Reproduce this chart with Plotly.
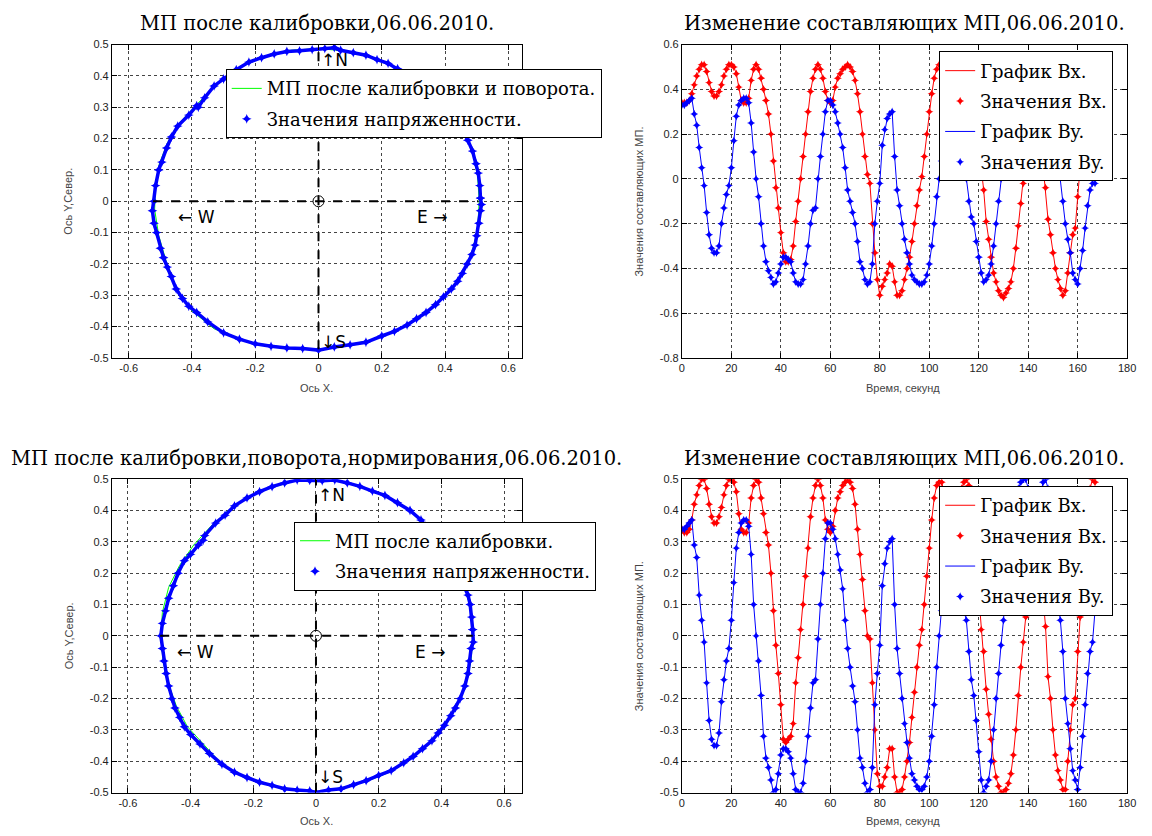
import plotly.graph_objects as go

# page body has an 8px default margin, so the figure is 8px smaller than the window
OFF = 8
W, H = 1152 - OFF, 836 - OFF

# ---------------- DATA ----------------
t_sec = list(range(168))

# top-right: components after calibration
bx_top = [0.34, 0.34, 0.34, 0.35, 0.38, 0.42, 0.46, 0.49, 0.51, 0.51,
          0.48, 0.43, 0.39, 0.37, 0.37, 0.39, 0.42, 0.46, 0.49, 0.51,
          0.51, 0.50, 0.47, 0.41, 0.35, 0.34, 0.34, 0.36, 0.44, 0.49,
          0.51, 0.49, 0.45, 0.40, 0.35, 0.29, 0.20, 0.08, -0.04, -0.13,
          -0.24, -0.33, -0.37, -0.37, -0.36, -0.30, -0.19, -0.10, 0.00, 0.10,
          0.20, 0.30, 0.39, 0.45, 0.49, 0.51, 0.49, 0.45, 0.39, 0.35,
          0.34, 0.35, 0.41, 0.45, 0.47, 0.49, 0.50, 0.51, 0.50, 0.48,
          0.44, 0.38, 0.30, 0.20, 0.10, 0.02, -0.02, -0.20, -0.33, -0.45,
          -0.52, -0.48, -0.45, -0.42, -0.38, -0.39, -0.46, -0.52, -0.52, -0.50,
          -0.45, -0.40, -0.35, -0.28, -0.20, -0.12, -0.05, 0.01, 0.10, 0.20,
          0.30, 0.38, 0.45, 0.49, 0.51, 0.50, 0.47, 0.42, 0.38, 0.36,
          0.36, 0.39, 0.44, 0.48, 0.50, 0.51, 0.49, 0.43, 0.34, 0.24,
          0.12, 0.02, -0.05, -0.19, -0.27, -0.35, -0.42, -0.46, -0.50, -0.52,
          -0.53, -0.51, -0.49, -0.46, -0.40, -0.31, -0.21, -0.11, -0.02, 0.10,
          0.22, 0.34, 0.40, 0.38, 0.30, 0.18, 0.06, -0.04, -0.18, -0.25,
          -0.33, -0.40, -0.45, -0.49, -0.52, -0.50, -0.42, -0.33, -0.25, -0.22,
          -0.08, 0.08, 0.22, 0.33, 0.42, 0.47, 0.50, 0.50]
by_top = [0.33, 0.33, 0.34, 0.35, 0.36, 0.29, 0.24, 0.14, 0.05, -0.03,
          -0.15, -0.25, -0.31, -0.33, -0.33, -0.30, -0.20, -0.13, -0.07, -0.03,
          0.05, 0.17, 0.28, 0.33, 0.35, 0.36, 0.36, 0.34, 0.25, 0.12,
          0.00, -0.08, -0.20, -0.30, -0.37, -0.41, -0.44, -0.47, -0.46, -0.42,
          -0.38, -0.35, -0.35, -0.36, -0.37, -0.42, -0.46, -0.47, -0.47, -0.45,
          -0.38, -0.30, -0.20, -0.14, -0.13, 0.00, 0.10, 0.20, 0.30, 0.35,
          0.35, 0.33, 0.30, 0.25, 0.20, 0.14, 0.05, -0.05, -0.10, -0.15,
          -0.20, -0.28, -0.37, -0.40, -0.45, -0.47, -0.46, -0.38, -0.20, -0.10,
          -0.02, 0.15, 0.22, 0.27, 0.29, 0.30, 0.10, -0.05, -0.12, -0.20,
          -0.27, -0.33, -0.38, -0.43, -0.45, -0.46, -0.47, -0.47, -0.46, -0.43,
          -0.38, -0.30, -0.20, -0.08, 0.00, 0.08, 0.18, 0.27, 0.33, 0.36,
          0.36, 0.33, 0.25, 0.15, 0.06, 0.00, -0.10, -0.17, -0.20, -0.28,
          -0.35, -0.42, -0.46, -0.45, -0.43, -0.38, -0.30, -0.20, -0.10, 0.00,
          0.08, 0.18, 0.27, 0.34, 0.40, 0.44, 0.47, 0.49, 0.50, 0.50,
          0.47, 0.42, 0.38, 0.37, 0.40, 0.45, 0.49, 0.50, 0.47, 0.38,
          0.28, 0.18, 0.08, 0.01, -0.10, -0.20, -0.27, -0.33, -0.42, -0.45,
          -0.47, -0.40, -0.32, -0.22, -0.12, -0.05, -0.02, -0.02]

# bottom-right: components after calibration, rotation, normalisation
bx_bot = [0.34, 0.33, 0.33, 0.34, 0.37, 0.42, 0.45, 0.48, 0.50, 0.50,
          0.47, 0.42, 0.38, 0.36, 0.36, 0.38, 0.41, 0.45, 0.48, 0.50,
          0.50, 0.49, 0.46, 0.39, 0.34, 0.33, 0.33, 0.36, 0.44, 0.48,
          0.50, 0.49, 0.44, 0.39, 0.33, 0.29, 0.20, 0.08, -0.03, -0.12,
          -0.22, -0.33, -0.34, -0.33, -0.32, -0.28, -0.15, -0.07, 0.02, 0.10,
          0.19, 0.28, 0.38, 0.44, 0.48, 0.50, 0.48, 0.44, 0.37, 0.34,
          0.33, 0.35, 0.40, 0.44, 0.46, 0.48, 0.49, 0.50, 0.49, 0.47,
          0.42, 0.34, 0.26, 0.18, 0.08, 0.00, -0.01, -0.15, -0.30, -0.44,
          -0.48, -0.48, -0.45, -0.42, -0.36, -0.36, -0.45, -0.50, -0.50, -0.49,
          -0.45, -0.40, -0.34, -0.26, -0.18, -0.10, -0.03, 0.02, 0.10, 0.19,
          0.28, 0.37, 0.44, 0.48, 0.49, 0.49, 0.46, 0.41, 0.37, 0.35,
          0.35, 0.38, 0.43, 0.47, 0.49, 0.50, 0.48, 0.42, 0.33, 0.23,
          0.12, 0.02, -0.05, -0.17, -0.25, -0.33, -0.40, -0.45, -0.48, -0.50,
          -0.50, -0.49, -0.47, -0.44, -0.38, -0.30, -0.19, -0.10, -0.02, 0.06,
          0.18, 0.30, 0.38, 0.37, 0.29, 0.18, 0.12, 0.03, -0.13, -0.20,
          -0.30, -0.38, -0.43, -0.46, -0.49, -0.49, -0.40, -0.30, -0.22, -0.20,
          -0.05, 0.06, 0.20, 0.32, 0.41, 0.47, 0.50, 0.49]
by_bot = [0.34, 0.34, 0.35, 0.36, 0.37, 0.29, 0.25, 0.13, 0.05, -0.02,
          -0.15, -0.27, -0.33, -0.35, -0.35, -0.31, -0.21, -0.14, -0.08, -0.04,
          0.05, 0.17, 0.28, 0.33, 0.36, 0.37, 0.37, 0.35, 0.26, 0.10,
          0.00, -0.08, -0.19, -0.32, -0.39, -0.42, -0.46, -0.50, -0.49, -0.44,
          -0.38, -0.36, -0.36, -0.37, -0.39, -0.44, -0.49, -0.50, -0.50, -0.47,
          -0.40, -0.32, -0.23, -0.15, -0.14, -0.01, 0.10, 0.20, 0.31, 0.36,
          0.36, 0.34, 0.31, 0.26, 0.21, 0.15, 0.05, -0.04, -0.10, -0.16,
          -0.21, -0.30, -0.39, -0.42, -0.47, -0.50, -0.49, -0.42, -0.22, -0.12,
          -0.03, 0.16, 0.23, 0.28, 0.30, 0.31, 0.10, -0.04, -0.12, -0.20,
          -0.28, -0.34, -0.39, -0.44, -0.46, -0.48, -0.49, -0.49, -0.48, -0.45,
          -0.40, -0.32, -0.22, -0.10, 0.00, 0.08, 0.19, 0.28, 0.34, 0.37,
          0.37, 0.34, 0.26, 0.16, 0.08, 0.05, -0.05, -0.14, -0.19, -0.27,
          -0.37, -0.46, -0.50, -0.48, -0.46, -0.40, -0.30, -0.20, -0.12, -0.03,
          0.05, 0.15, 0.26, 0.34, 0.40, 0.44, 0.47, 0.49, 0.50, 0.50,
          0.47, 0.42, 0.38, 0.37, 0.40, 0.45, 0.49, 0.50, 0.47, 0.38,
          0.28, 0.18, 0.10, 0.05, -0.05, -0.20, -0.28, -0.36, -0.43, -0.46,
          -0.49, -0.42, -0.32, -0.22, -0.12, -0.05, -0.02, 0.08]

# top-left: field after calibration and rotation
tl_fit_x = [0.508, 0.503, 0.488, 0.458, 0.415, 0.36, 0.30, 0.235, 0.16, 0.08,
            0.0, -0.085, -0.17, -0.25, -0.325, -0.385, -0.44, -0.478, -0.503, -0.515,
            -0.518, -0.505, -0.482, -0.448, -0.40, -0.33, -0.22, -0.10, 0.0, 0.08,
            0.175, 0.26, 0.33, 0.39, 0.432, 0.462, 0.486, 0.503, 0.508]
tl_fit_y = [0.0, 0.08, 0.155, 0.225, 0.29, 0.345, 0.39, 0.43, 0.462, 0.48,
            0.487, 0.482, 0.462, 0.427, 0.372, 0.31, 0.25, 0.185, 0.12, 0.047,
            -0.026, -0.11, -0.19, -0.285, -0.35, -0.407, -0.45, -0.467, -0.472, -0.462,
            -0.44, -0.405, -0.362, -0.31, -0.265, -0.215, -0.16, -0.09, 0.0]
tl_pts_x = [0.512, 0.51, 0.505, 0.498, 0.487, 0.472, 0.455, 0.435, 0.41, 0.38,
            0.35, 0.32, 0.285, 0.25, 0.22, 0.185, 0.15, 0.11, 0.07, 0.05,
            0.02, -0.02, -0.06, -0.10, -0.14, -0.18, -0.22, -0.26, -0.30, -0.33,
            -0.36, -0.38, -0.385, -0.41, -0.445, -0.465, -0.48, -0.495, -0.505, -0.515,
            -0.52, -0.525, -0.52, -0.512, -0.50, -0.49, -0.478, -0.465, -0.45, -0.43,
            -0.41, -0.385, -0.35, -0.30, -0.25, -0.20, -0.15, -0.10, -0.05, 0.0,
            0.05, 0.10, 0.15, 0.20, 0.24, 0.28, 0.31, 0.34, 0.37, 0.395,
            0.42, 0.44, 0.455, 0.47, 0.485, 0.495, 0.50, 0.507, 0.512, 0.515,
            0.512]
tl_pts_y = [0.01, 0.05, 0.09, 0.12, 0.16, 0.195, 0.23, 0.262, 0.295, 0.325,
            0.352, 0.376, 0.40, 0.423, 0.44, 0.452, 0.466, 0.474, 0.482, 0.49,
            0.487, 0.484, 0.48, 0.478, 0.47, 0.458, 0.444, 0.42, 0.39, 0.368,
            0.33, 0.30, 0.305, 0.275, 0.24, 0.205, 0.17, 0.125, 0.10, 0.05,
            0.0, -0.03, -0.07, -0.10, -0.15, -0.18, -0.21, -0.24, -0.28, -0.31,
            -0.335, -0.355, -0.385, -0.42, -0.44, -0.455, -0.463, -0.468, -0.47, -0.475,
            -0.465, -0.458, -0.45, -0.43, -0.415, -0.395, -0.375, -0.355, -0.33, -0.305,
            -0.28, -0.255, -0.23, -0.20, -0.17, -0.14, -0.11, -0.07, -0.03, -0.01,
            0.01]

# bottom-left: field after calibration, rotation, normalisation
bl_fit_x = [0.50, 0.495, 0.475, 0.44, 0.395, 0.345, 0.29, 0.225, 0.15, 0.075,
            0.0, -0.075, -0.15, -0.22, -0.28, -0.335, -0.39, -0.435, -0.47, -0.49,
            -0.495, -0.488, -0.47, -0.445, -0.41, -0.36, -0.30, -0.225, -0.15, -0.075,
            0.0, 0.08, 0.16, 0.235, 0.30, 0.36, 0.41, 0.45, 0.478, 0.495, 0.50]
bl_fit_y = [0.0, 0.08, 0.155, 0.23, 0.30, 0.36, 0.405, 0.445, 0.475, 0.493,
            0.497, 0.493, 0.47, 0.44, 0.40, 0.35, 0.29, 0.225, 0.155, 0.075,
            0.0, -0.08, -0.155, -0.225, -0.29, -0.345, -0.41, -0.45, -0.475, -0.49,
            -0.497, -0.485, -0.465, -0.435, -0.395, -0.345, -0.285, -0.22, -0.155, -0.08, 0.0]
bl_pts_x = [0.50, 0.497, 0.492, 0.485, 0.47, 0.455, 0.435, 0.41, 0.385, 0.35,
            0.335, 0.30, 0.26, 0.22, 0.18, 0.14, 0.10, 0.06, 0.02, -0.02,
            -0.06, -0.10, -0.14, -0.18, -0.22, -0.26, -0.29, -0.32, -0.355, -0.36,
            -0.375, -0.40, -0.42, -0.44, -0.455, -0.47, -0.48, -0.49, -0.495, -0.49,
            -0.485, -0.478, -0.47, -0.46, -0.45, -0.435, -0.42, -0.40, -0.37, -0.34,
            -0.30, -0.26, -0.22, -0.18, -0.14, -0.10, -0.06, -0.02, 0.0, 0.04,
            0.08, 0.12, 0.16, 0.20, 0.24, 0.28, 0.31, 0.34, 0.37, 0.39,
            0.41, 0.43, 0.445, 0.46, 0.475, 0.485, 0.49, 0.495, 0.502, 0.50]
bl_pts_y = [0.02, 0.06, 0.10, 0.13, 0.165, 0.20, 0.24, 0.28, 0.315, 0.35,
            0.37, 0.40, 0.425, 0.448, 0.462, 0.477, 0.488, 0.497, 0.495, 0.496,
            0.497, 0.488, 0.476, 0.46, 0.44, 0.415, 0.385, 0.36, 0.32, 0.305,
            0.29, 0.26, 0.24, 0.20, 0.16, 0.12, 0.08, 0.04, 0.0, -0.04,
            -0.08, -0.12, -0.16, -0.20, -0.23, -0.26, -0.29, -0.315, -0.345, -0.375,
            -0.41, -0.435, -0.452, -0.467, -0.477, -0.488, -0.492, -0.495, -0.50, -0.492,
            -0.488, -0.475, -0.462, -0.445, -0.43, -0.405, -0.385, -0.36, -0.335, -0.31,
            -0.285, -0.255, -0.23, -0.20, -0.16, -0.12, -0.08, -0.04, -0.02, 0.02]

# compass cross (dashed lines) for each circle plot
tl_cross_hx, tl_cross_vy = [-0.523, 0.505], [-0.472, 0.487]
bl_cross_hx, bl_cross_vy = [-0.497, 0.50], [-0.497, 0.497]

# tick labels
circ_xt = [-0.6, -0.4, -0.2, 0, 0.2, 0.4, 0.6]
circ_yt = [-0.5, -0.4, -0.3, -0.2, -0.1, 0, 0.1, 0.2, 0.3, 0.4, 0.5]
time_xt = [0, 20, 40, 60, 80, 100, 120, 140, 160, 180]
tr_yt = [-0.8, -0.6, -0.4, -0.2, 0, 0.2, 0.4, 0.6]
br_yt = [-0.5, -0.4, -0.3, -0.2, -0.1, 0, 0.1, 0.2, 0.3, 0.4, 0.5]

titles = ["МП после калибровки,06.06.2010.",
          "Изменение составляющих МП,06.06.2010.",
          "МП после калибровки,поворота,нормирования,06.06.2010.",
          "Изменение составляющих МП,06.06.2010."]


def lbl(v):
    return "%g" % v


# ---------------- FIGURE ----------------
def fx(p):  # screen pixel -> paper fraction
    return (p - OFF) / W


def fy(p):
    return 1 - (p - OFF) / H


SERIF = "DejaVu Serif, Liberation Serif, serif"
SANS = "Liberation Sans, Arial, sans-serif"
RED, BLUE, GREEN = "#ff0000", "#0000ff", "#00ff00"

fig = go.Figure()


def circle_panel(xa, ya, leg, fit_x, fit_y, px, py, hx, vy, fit_name):
    fig.add_trace(go.Scatter(x=fit_x, y=fit_y, mode="lines", name=fit_name,
                             line=dict(color=GREEN, width=1), xaxis=xa, yaxis=ya,
                             legend=leg, legendgroup=leg + "a"))
    fig.add_trace(go.Scatter(x=px, y=py, mode="lines", showlegend=False,
                             line=dict(color=BLUE, width=3.5), xaxis=xa, yaxis=ya,
                             hoverinfo="skip"))
    fig.add_trace(go.Scatter(x=px, y=py, mode="markers", name="Значения напряженности.",
                             marker=dict(color=BLUE, size=7, symbol="star-diamond"),
                             xaxis=xa, yaxis=ya, legend=leg, legendgroup=leg + "b"))
    fig.add_trace(go.Scatter(x=hx, y=[0, 0], mode="lines", showlegend=False,
                             line=dict(color="black", width=2, dash="dash"), xaxis=xa, yaxis=ya))
    fig.add_trace(go.Scatter(x=[0, 0], y=vy, mode="lines", showlegend=False,
                             line=dict(color="black", width=2, dash="dash"), xaxis=xa, yaxis=ya))
    fig.add_trace(go.Scatter(x=[0], y=[0], mode="markers", showlegend=False,
                             marker=dict(symbol="circle-open", size=11, color="black",
                                         line=dict(width=1)), xaxis=xa, yaxis=ya))


def time_panel(xa, ya, leg, bx, by):
    fig.add_trace(go.Scatter(x=t_sec, y=bx, mode="lines", name="График Bx.",
                             line=dict(color=RED, width=1), xaxis=xa, yaxis=ya,
                             legend=leg, legendgroup=leg + "1"))
    fig.add_trace(go.Scatter(x=t_sec, y=bx, mode="markers", name="Значения Bx.",
                             marker=dict(color=RED, size=6, symbol="star-diamond"),
                             xaxis=xa, yaxis=ya, legend=leg, legendgroup=leg + "2"))
    fig.add_trace(go.Scatter(x=t_sec, y=by, mode="lines", name="График By.",
                             line=dict(color=BLUE, width=1), xaxis=xa, yaxis=ya,
                             legend=leg, legendgroup=leg + "3"))
    fig.add_trace(go.Scatter(x=t_sec, y=by, mode="markers", name="Значения By.",
                             marker=dict(color=BLUE, size=6, symbol="star-diamond"),
                             xaxis=xa, yaxis=ya, legend=leg, legendgroup=leg + "4"))


circle_panel("x", "y", "legend", tl_fit_x, tl_fit_y, tl_pts_x, tl_pts_y,
             tl_cross_hx, tl_cross_vy, "МП после калибровки и поворота.")
time_panel("x2", "y2", "legend2", bx_top, by_top)
circle_panel("x3", "y3", "legend3", bl_fit_x, bl_fit_y, bl_pts_x, bl_pts_y,
             bl_cross_hx, bl_cross_vy, "МП после калибровки.")
time_panel("x4", "y4", "legend4", bx_bot, by_bot)


def axis(dom, rng, tv):
    return dict(domain=dom, range=rng, tickvals=tv, ticktext=[lbl(v) for v in tv],
                showline=True, linecolor="black", linewidth=1, mirror="ticks",
                ticks="inside", ticklen=5, tickcolor="black", tickwidth=1,
                showgrid=True, gridcolor="#444", griddash="dot", gridwidth=1,
                zeroline=False, tickfont=dict(family=SANS, size=11, color="#222"),
                fixedrange=True)


LX = [fx(110), fx(524)]
RX = [fx(686), fx(1136)]
TY = [fy(357), fy(39)]
BY = [fy(798), fy(480)]

layout_axes = dict(
    xaxis=axis(LX, [-0.653, 0.642], circ_xt) | dict(anchor="y"),
    yaxis=axis(TY, [-0.5, 0.5], circ_yt) | dict(anchor="x"),
    xaxis2=axis(RX, [0, 180], time_xt) | dict(anchor="y2"),
    yaxis2=axis(TY, [-0.8, 0.6], tr_yt) | dict(anchor="x2"),
    xaxis3=axis(LX, [-0.651, 0.656], circ_xt) | dict(anchor="y3"),
    yaxis3=axis(BY, [-0.5, 0.5], circ_yt) | dict(anchor="x3"),
    xaxis4=axis(RX, [0, 180], time_xt) | dict(anchor="y4"),
    yaxis4=axis(BY, [-0.5, 0.5], br_yt) | dict(anchor="x4"),
)


def legend(xp, yp):
    return dict(x=fx(xp), y=fy(yp), xanchor="left", yanchor="top",
                bgcolor="white", bordercolor="black", borderwidth=1,
                font=dict(family=SERIF, size=18, color="black"),
                tracegroupgap=4, itemclick=False, itemdoubleclick=False)


ann = []
for txt, xc, yc in [(titles[0], 317, 18), (titles[1], 911, 18),
                    (titles[2], 317, 459), (titles[3], 911, 459)]:
    ann.append(dict(text=txt, x=fx(xc), y=fy(yc), xref="paper", yref="paper",
                    xanchor="center", yanchor="middle", showarrow=False,
                    font=dict(family=SERIF, size=19.5, color="black")))
axt = dict(family=SANS, size=11, color="#444")
for txt, xc, yc, ang in [("Ось X.", 317, 387, 0), ("Ось Y,Север.", 66, 198, -90),
                         ("Время, секунд", 909, 387, 0),
                         ("Значения составляющих МП.", 643, 198, -90),
                         ("Ось X.", 317, 827, 0), ("Ось Y,Север.", 66, 639, -90),
                         ("Время, секунд", 909, 827, 0),
                         ("Значения составляющих МП.", 643, 639, -90)]:
    ann.append(dict(text=txt, x=fx(xc), y=fy(yc), xref="paper", yref="paper",
                    xanchor="center", yanchor="middle", showarrow=False,
                    textangle=ang, font=axt))
cf = dict(family="DejaVu Sans, Liberation Sans, sans-serif", size=17, color="black")
comp = [("x", "y", "↑N", 0.0, 0.45), ("x", "y", "↓S", 0.0, -0.45),
        ("x", "y", "← W", -0.45, -0.05), ("x", "y", "E →", 0.305, -0.05),
        ("x3", "y3", "↑N", 0.0, 0.45), ("x3", "y3", "↓S", 0.0, -0.45),
        ("x3", "y3", "← W", -0.45, -0.05), ("x3", "y3", "E →", 0.31, -0.05)]
for xr, yr, txt, xv, yv in comp:
    ann.append(dict(text=txt, x=xv, y=yv, xref=xr, yref=yr, xanchor="left",
                    yanchor="middle", showarrow=False, font=cf))

fig.update_layout(
    width=W, height=H, margin=dict(l=0, r=0, t=0, b=0),
    paper_bgcolor="white", plot_bgcolor="white",
    showlegend=True,
    legend=legend(225, 64), legend2=legend(946, 46),
    legend3=legend(294, 523), legend4=legend(946, 487),
    annotations=ann, **layout_axes,
)

fig.write_html("out.html")
